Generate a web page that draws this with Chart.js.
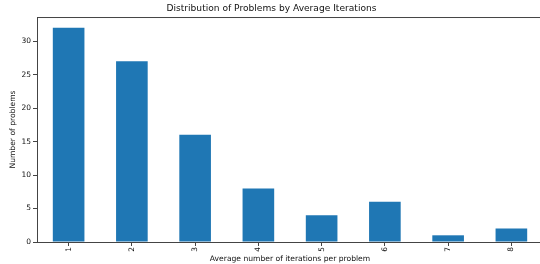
<!DOCTYPE html>
<html>
<head>
<meta charset="utf-8">
<script src="https://cdn.jsdelivr.net/npm/chart.js@4/dist/chart.umd.min.js"></script>
<style>
  html, body { margin: 0; padding: 0; overflow: hidden; background: #fff; width: 540px; height: 264px; }
  canvas { display: block; }
</style>
</head>
<body>
<canvas id="problemsChart" width="546" height="264"></canvas>
<script>
// values
const iterations = ['1', '2', '3', '4', '5', '6', '7', '8'];
const problemCounts = [32, 27, 16, 8, 4, 6, 1, 2];
const yTicks = [0, 5, 10, 15, 20, 25, 30];

const axisColor = '#444';
const textColor = '#111';
const tickFont = { family: 'DejaVu Sans', size: 7.5 };
const labelFont = { family: 'DejaVu Sans', size: 7.6, lineHeight: 1.2 };

// matplotlib draws a box round the axes, so add the top spine by hand
const topSpine = {
    id: 'topSpine',
    afterDraw(chart) {
        const { ctx, chartArea } = chart;
        ctx.save();
        ctx.strokeStyle = axisColor;
        ctx.lineWidth = 1;
        ctx.beginPath();
        ctx.moveTo(chartArea.left, chartArea.top + 0.5);
        ctx.lineTo(chartArea.right, chartArea.top + 0.5);
        ctx.moveTo(chartArea.right - 0.5, chartArea.top);
        ctx.lineTo(chartArea.right - 0.5, chartArea.bottom);
        ctx.stroke();
        ctx.restore();
    }
};

const ctx = document.getElementById('problemsChart').getContext('2d');

new Chart(ctx, {
    type: 'bar',
    data: {
        labels: iterations,
        datasets: [{
            label: 'Number of problems',
            data: problemCounts,
            backgroundColor: '#1f77b4',
            borderWidth: 0,
            barPercentage: 0.5,
            categoryPercentage: 1
        }]
    },
    options: {
        responsive: false,
        animation: false,
        layout: { padding: { left: 0, right: 3, top: 0, bottom: 0 } },
        plugins: {
            legend: { display: false },
            tooltip: { enabled: false },
            title: {
                display: true,
                text: 'Distribution of Problems by Average Iterations',
                color: textColor,
                font: { family: 'DejaVu Sans', size: 9.1, weight: 'normal', lineHeight: 1.2 },
                padding: { top: 3, bottom: 3.1 }
            }
        },
        scales: {
            x: {
                offset: true,
                grid: {
                    offset: false,
                    drawOnChartArea: false,
                    drawTicks: true,
                    tickLength: 4,
                    tickColor: axisColor
                },
                border: { display: true, color: axisColor, width: 1 },
                ticks: {
                    color: textColor,
                    font: tickFont,
                    minRotation: 90,
                    maxRotation: 90,
                    padding: 1
                },
                title: {
                    display: true,
                    text: 'Average number of iterations per problem',
                    color: textColor,
                    font: labelFont,
                    padding: { top: 0, bottom: 0.5 }
                },
                afterFit(scale) { scale.height = 22; }
            },
            y: {
                min: 0,
                max: 33.6,
                grid: {
                    drawOnChartArea: false,
                    drawTicks: true,
                    tickLength: 4,
                    tickColor: axisColor
                },
                border: { display: true, color: axisColor, width: 1 },
                ticks: {
                    color: textColor,
                    font: tickFont,
                    stepSize: 5,
                    padding: 2
                },
                afterBuildTicks(scale) {
                    scale.ticks = yTicks.map(v => ({ value: v }));
                },
                title: {
                    display: true,
                    text: 'Number of problems',
                    color: textColor,
                    font: labelFont,
                    padding: { top: 8.5, bottom: 0 }
                },
                afterFit(scale) { scale.width = 37; }
            }
        }
    },
    plugins: [topSpine]
});
</script>
</body>
</html>
